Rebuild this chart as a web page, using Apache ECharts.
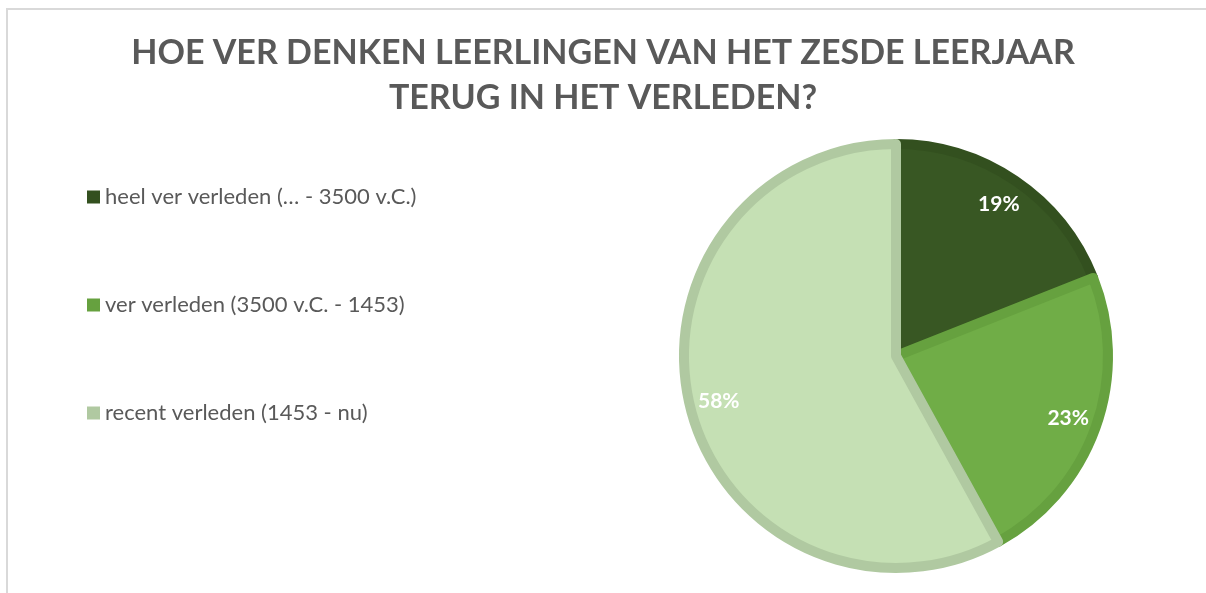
<!DOCTYPE html>
<html lang="nl">
<head>
    <meta charset="UTF-8">
    <title>Hoe ver denken leerlingen terug in het verleden?</title>
    <script src="https://cdn.jsdelivr.net/npm/echarts@6/dist/echarts.min.js"></script>
    <style>
        html, body { margin: 0; padding: 0; background: #fff; }
        #frame {
            position: absolute; left: 6px; top: 8px;
            width: 1206px; height: 600px;
            border-left: 2px solid #d9d9d9; border-top: 2px solid #d9d9d9;
        }
        #chart { position: absolute; left: 0; top: 0; width: 1206px; height: 593px; }
    </style>
</head>
<body>
    <div id="frame"></div>
    <div id="chart"></div>
    <script>
        // categorieën en aandelen (%)
        var categories = ['heel ver verleden (… - 3500 v.C.)', 'ver verleden (3500 v.C. - 1453)', 'recent verleden (1453 - nu)'];
        var values = [19, 23, 58];
        var fillColors = ['#385723', '#70ad47', '#c5e0b4'];
        var edgeColors = ['#33501f', '#66a13f', '#b0c9a1'];

        var pieData = categories.map(function (name, i) {
            return {
                name: name,
                value: values[i],
                itemStyle: { color: fillColors[i], borderColor: edgeColors[i] }
            };
        });
        var labelData = categories.map(function (name, i) {
            return { name: name, value: values[i] };
        });

        var chart = echarts.init(document.getElementById('chart'));
        chart.setOption({
            animation: false,
            title: {
                text: 'HOE VER DENKEN LEERLINGEN VAN HET ZESDE LEERJAAR\nTERUG IN HET VERLEDEN?',
                left: 'center',
                top: 31,
                padding: 0,
                textStyle: {
                    fontFamily: 'Lato',
                    fontWeight: 'bold',
                    fontSize: 34,
                    lineHeight: 45,
                    color: '#595959'
                }
            },
            legend: {
                orient: 'vertical',
                left: 87,
                top: 186,
                padding: 0,
                itemWidth: 13,
                itemHeight: 13,
                itemGap: 86,
                icon: 'rect',
                data: categories.map(function (name, i) {
                    return { name: name, itemStyle: { color: edgeColors[i], borderWidth: 0 } };
                }),
                textStyle: { fontFamily: 'Lato', fontSize: 22, lineHeight: 20, color: '#595959' }
            },
            series: [
                {
                    type: 'pie',
                    center: [896, 356],
                    radius: [0, 212],
                    startAngle: 90,
                    clockwise: true,
                    silent: true,
                    label: { show: false },
                    labelLine: { show: false },
                    itemStyle: { borderWidth: 10 },
                    data: pieData
                },
                {
                    type: 'pie',
                    center: [896, 356],
                    radius: [160, 200],
                    startAngle: 90,
                    clockwise: true,
                    silent: true,
                    itemStyle: { color: 'rgba(0,0,0,0)' },
                    labelLine: { show: false },
                    label: {
                        show: true,
                        position: 'inside',
                        formatter: '{c}%',
                        color: '#ffffff',
                        fontFamily: 'Lato',
                        fontWeight: 'bold',
                        fontSize: 21,
                        textBorderWidth: 0
                    },
                    legendHoverLink: false,
                    data: labelData
                }
            ]
        });
    </script>
</body>
</html>
